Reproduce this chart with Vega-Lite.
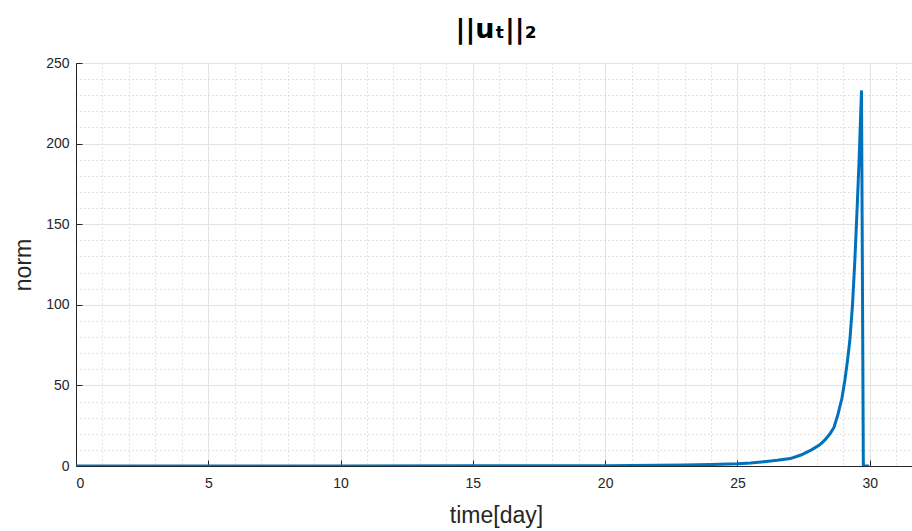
{
  "$schema": "https://vega.github.io/schema/vega-lite/v6.json",
  "width": 840,
  "height": 403,
  "autosize": "none",
  "padding": {"left": 76, "top": 63, "right": 0, "bottom": 65},
  "background": "white",
  "config": {
    "view": {"stroke": "#262626", "strokeWidth": 1},
    "font": "Liberation Sans"
  },
  "title": {
    "text": "||uₜ||₂",
    "font": "DejaVu Sans",
    "fontSize": 27,
    "fontWeight": "bold",
    "color": "#000000",
    "offset": 12,
    "anchor": "middle",
    "frame": "group",
    "dx": 0
  },
  "data": {
    "values": [
      {"t": 0, "v": 0},
      {"t": 5, "v": 0.01},
      {"t": 10, "v": 0.03},
      {"t": 15, "v": 0.08},
      {"t": 20, "v": 0.2},
      {"t": 22, "v": 0.4},
      {"t": 23, "v": 0.6},
      {"t": 24, "v": 0.9},
      {"t": 25, "v": 1.4},
      {"t": 25.5, "v": 1.9},
      {"t": 26, "v": 2.7},
      {"t": 26.5, "v": 3.5},
      {"t": 27, "v": 4.6},
      {"t": 27.4, "v": 6.8},
      {"t": 27.8, "v": 10},
      {"t": 28.1, "v": 13},
      {"t": 28.3, "v": 16},
      {"t": 28.5, "v": 20},
      {"t": 28.65, "v": 24},
      {"t": 28.8, "v": 32},
      {"t": 28.95, "v": 42},
      {"t": 29.06, "v": 53},
      {"t": 29.15, "v": 64},
      {"t": 29.25, "v": 78},
      {"t": 29.35, "v": 100},
      {"t": 29.44, "v": 128},
      {"t": 29.52, "v": 158},
      {"t": 29.6, "v": 190},
      {"t": 29.69, "v": 233},
      {"t": 29.76, "v": 0},
      {"t": 29.97, "v": 0}
    ]
  },
  "layer": [
    {
      "mark": {"type": "line", "opacity": 0},
      "encoding": {
        "x": {
          "field": "t", "type": "quantitative",
          "scale": {"domain": [0, 31.75], "nice": false, "zero": false},
          "axis": {
            "orient": "bottom",
            "values": [1,2,3,4,6,7,8,9,11,12,13,14,16,17,18,19,21,22,23,24,26,27,28,29,31],
            "grid": true, "gridDash": [1, 3], "gridColor": "#c8c8c8", "gridWidth": 1,
            "labels": false, "ticks": false, "domain": false, "title": null
          }
        },
        "y": {
          "field": "v", "type": "quantitative",
          "scale": {"domain": [0, 250], "nice": false},
          "axis": {
            "orient": "left",
            "values": [10,20,30,40,60,70,80,90,110,120,130,140,160,170,180,190,210,220,230,240],
            "grid": true, "gridDash": [1, 3], "gridColor": "#c8c8c8", "gridWidth": 1,
            "labels": false, "ticks": false, "domain": false, "title": null
          }
        }
      }
    },
    {
      "mark": {"type": "line", "color": "#0072BD", "strokeWidth": 3, "clip": true},
      "encoding": {
        "x": {
          "field": "t", "type": "quantitative",
          "axis": {
            "orient": "bottom",
            "values": [0, 5, 10, 15, 20, 25, 30],
            "grid": true, "gridColor": "#e3e3e3", "gridWidth": 1,
            "domainColor": "#262626", "tickColor": "#262626", "tickSize": -6,
            "labelFontSize": 14, "labelColor": "#262626", "labelPadding": 16,
            "labelFont": "Liberation Sans",
            "title": "time[day]", "titleFontSize": 23, "titleFontWeight": "normal",
            "titleColor": "#262626", "titleFont": "Liberation Sans", "titlePadding": 14
          }
        },
        "y": {
          "field": "v", "type": "quantitative",
          "axis": {
            "orient": "left",
            "values": [0, 50, 100, 150, 200, 250],
            "grid": true, "gridColor": "#e3e3e3", "gridWidth": 1,
            "domainColor": "#262626", "tickColor": "#262626", "tickSize": -6,
            "labelFontSize": 14, "labelColor": "#262626", "labelPadding": 13,
            "labelFont": "Liberation Sans",
            "title": "norm", "titleFontSize": 23, "titleFontWeight": "normal",
            "titleColor": "#262626", "titleFont": "Liberation Sans", "titlePadding": 10
          }
        }
      }
    }
  ],
  "resolve": {"axis": {"x": "independent", "y": "independent"}}
}
